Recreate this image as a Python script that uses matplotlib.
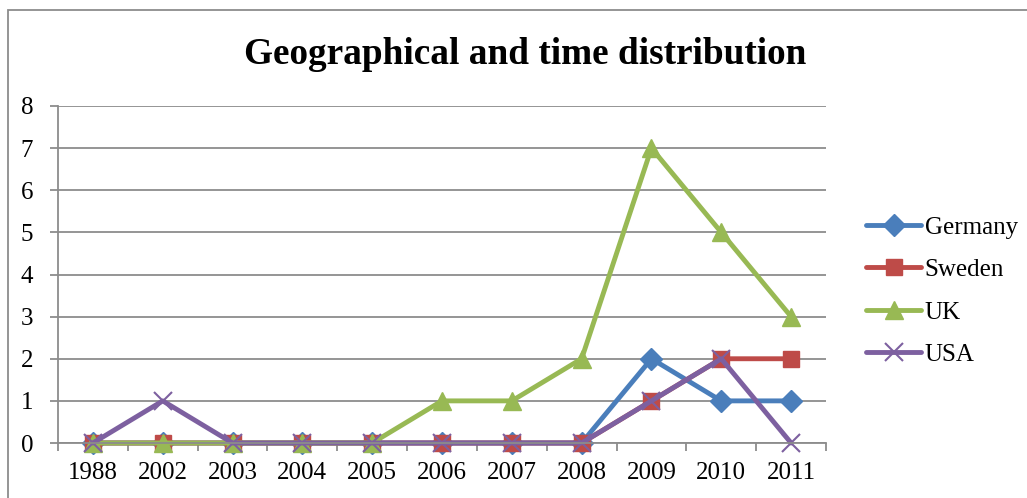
import matplotlib
matplotlib.use("Agg")
import matplotlib.pyplot as plt
from matplotlib.patches import Rectangle

years = ["1988", "2002", "2003", "2004", "2005", "2006", "2007", "2008", "2009", "2010", "2011"]
germany = [0, 0, 0, 0, 0, 0, 0, 0, 2, 1, 1]
sweden = [0, 0, 0, 0, 0, 0, 0, 0, 1, 2, 2]
uk = [0, 0, 0, 0, 0, 1, 1, 2, 7, 5, 3]
usa = [0, 1, 0, 0, 0, 0, 0, 0, 1, 2, 0]

plt.rcParams["font.family"] = ["Liberation Serif", "DejaVu Serif"]

W, H = 1027, 498
fig = plt.figure(figsize=(W / 100, H / 100), dpi=100)

# outer chart frame (only its top and left edges fall inside the canvas)
fig.patches.append(Rectangle((8 / W, -0.5), 1.2, 0.5 + (H - 10) / H, transform=fig.transFigure,
                             fill=False, edgecolor="#8c8c8c", linewidth=1.3))

ax = fig.add_axes([58 / W, (H - 443) / H, (826 - 58) / W, (443 - 106) / H])

x = list(range(len(years)))
series = [
    ("Germany", germany, "#4A7EBB", "D", 11),
    ("Sweden", sweden, "#BE4B48", "s", 12),
    ("UK", uk, "#98B954", "^", 13),
    ("USA", usa, "#7D60A0", "x", 13),
]
for name, vals, color, mk, ms in series:
    kw = dict(markeredgewidth=1.5) if mk == "x" else dict(markeredgecolor=color)
    ax.plot(x, vals, color=color, linewidth=3.5, marker=mk, markersize=ms,
            markerfacecolor=color, label=name, solid_capstyle="round",
            solid_joinstyle="round", clip_on=False, **kw)

ax.set_xlim(-0.5, len(years) - 0.5)
ax.set_ylim(0, 8)
ax.set_yticks(range(0, 9))
ax.set_xticks(x)
ax.set_xticklabels(years)
ax.set_xticks([i - 0.5 for i in range(len(years) + 1)], minor=True)
ax.tick_params(axis="x", which="major", length=0, pad=14, labelsize=18)
ax.tick_params(axis="x", which="minor", length=6, width=1.3, color="#8c8c8c", direction="out")
ax.tick_params(axis="y", length=6, width=1.3, color="#8c8c8c", pad=12, labelsize=18)
ax.grid(axis="y", color="#8c8c8c", linewidth=1.3)
ax.set_axisbelow(True)
for s in ["top", "right"]:
    ax.spines[s].set_visible(False)
for s in ["left", "bottom"]:
    ax.spines[s].set_color("#8c8c8c")
    ax.spines[s].set_linewidth(1.3)

fig.text(525 / W, 1 - 54 / H, "Geographical and time distribution", ha="center", va="center",
         fontsize=26.8, fontweight="bold")

leg = fig.legend(loc="center left", bbox_to_anchor=(866 / W, 1 - 291 / H), frameon=False,
                 fontsize=18, handlelength=2.2, handletextpad=0.15, labelspacing=0.8,
                 borderaxespad=0, borderpad=0)

fig.savefig("out.png", dpi=100)
